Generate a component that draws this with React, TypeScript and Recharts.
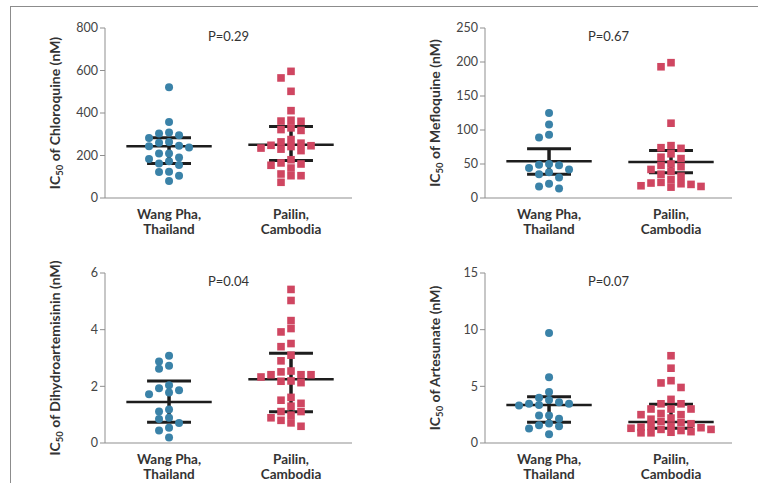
import React from 'react';
import { ScatterChart, Scatter, XAxis, YAxis, ReferenceLine, Label } from 'recharts';

// group labels, two lines each
const categories = [
  ['Wang Pha,', 'Thailand'],
  ['Pailin,', 'Cambodia'],
];

// IC50 values (nM)
const chloroquineWangPha = [521, 358, 308, 303, 295, 282, 264, 260, 246, 243, 238, 210, 209, 191, 184, 173, 162, 155, 124, 122, 105, 80];
const chloroquinePailin = [596, 565, 502, 411, 366, 362, 361, 330, 322, 318, 275, 264, 258, 248, 246, 242, 235, 230, 223, 180, 165, 160, 154, 141, 113, 105, 105, 74];

const mefloquineWangPha = [125, 108, 93, 89, 50, 49, 48, 44, 42, 38, 35, 30, 21, 17, 14];
const mefloquinePailin = [199, 193, 110, 77, 74, 73, 65, 60, 58, 50, 48, 46, 42, 39, 35, 32, 27, 23, 22, 21, 20, 18, 17, 16];

const dhaWangPha = [3.08, 2.88, 2.73, 2.62, 2.04, 1.93, 1.86, 1.78, 1.72, 1.18, 1.11, 0.89, 0.85, 0.71, 0.54, 0.44, 0.19];
const dhaPailin = [5.42, 5.03, 4.32, 4.04, 3.92, 3.51, 3.4, 3.1, 2.9, 2.54, 2.51, 2.41, 2.41, 2.41, 2.33, 2.19, 2.18, 2.13, 1.61, 1.51, 1.4, 1.3, 1.11, 1.11, 0.98, 0.89, 0.8, 0.71, 0.59];

const artesunateWangPha = [9.7, 5.8, 4.5, 4.0, 3.8, 3.6, 3.46, 3.46, 3.35, 3.31, 2.43, 2.43, 2.13, 1.72, 1.57, 1.48, 1.27, 0.77];
const artesunatePailin = [7.7, 6.6, 5.5, 5.3, 4.9, 3.85, 3.46, 3.46, 3.0, 3.0, 3.0, 2.6, 2.5, 2.5, 2.2, 2.1, 1.9, 1.8, 1.7, 1.5, 1.45, 1.4, 1.35, 1.3, 1.2, 1.2, 1.1, 1.0, 0.95, 0.9, 0.9];

// [q1, median, q3] per group
const chloroquineStats = [[162, 243, 284], [176, 251, 337]];
const mefloquineStats = [[35, 54, 72.5], [37, 53, 70]];
const dhaStats = [[0.73, 1.45, 2.19], [1.1, 2.25, 3.17]];
const artesunateStats = [[1.84, 3.35, 4.08], [1.3, 1.86, 3.43]];

const pValues = ['P=0.29', 'P=0.67', 'P=0.04', 'P=0.07'];

const BLUE = '#3a82a8';
const RED = '#cf4661';
const BAR = '#1d1d1d';
const AXIS = '#8f8f8f';
const FONT = 'Lato, "Open Sans", sans-serif';

const PLOT_H = 170;
const STEP = 0.082; // one swarm column in x units

// simple beeswarm: stack points sideways when they would overlap, max 4 columns each side
function swarm(values: number[], yMax: number, center: number) {
  const px = PLOT_H / yMax;
  const placed: { c: number; y: number }[] = [];
  const order = [0, -1, 1, -2, 2, -3, 3, -4, 4];
  const gap = 7;
  return [...values]
    .sort((a, b) => b - a)
    .map((v) => {
      const y = v * px;
      const near = (k: number) =>
        placed.filter((p) => p.c === k).reduce((m, p) => Math.min(m, Math.abs(p.y - y)), Infinity);
      let c = order.find((k) => near(k) >= gap);
      if (c === undefined) {
        c = order.reduce((best, k) => (near(k) > near(best) ? k : best), 0);
      }
      placed.push({ c, y });
      return { x: center + c * STEP, y: v };
    });
}

const Dot = (p: any) => <circle cx={p.cx} cy={p.cy} r={4} fill={BLUE} />;
const Sq = (p: any) => <rect x={p.cx - 3.8} y={p.cy - 3.8} width={7.6} height={7.6} fill={RED} />;

const CatTick = (p: any) => {
  const lines = categories[p.payload.value - 1] || [];
  return (
    <text x={p.x} y={p.y} textAnchor="middle" fill="#333" fontSize={13.5} fontWeight={700} fontFamily={FONT}>
      <tspan x={p.x} dy={19}>{lines[0]}</tspan>
      <tspan x={p.x} dy={15}>{lines[1]}</tspan>
    </text>
  );
};

const drugs = [
  { name: 'Chloroquine', wang: chloroquineWangPha, pailin: chloroquinePailin, stats: chloroquineStats, max: 800, ticks: [0, 200, 400, 600, 800] },
  { name: 'Mefloquine', wang: mefloquineWangPha, pailin: mefloquinePailin, stats: mefloquineStats, max: 250, ticks: [0, 50, 100, 150, 200, 250] },
  { name: 'Dihydroartemisinin', wang: dhaWangPha, pailin: dhaPailin, stats: dhaStats, max: 6, ticks: [0, 2, 4, 6] },
  { name: 'Artesunate', wang: artesunateWangPha, pailin: artesunatePailin, stats: artesunateStats, max: 15, ticks: [0, 5, 10, 15] },
];

function Panel({ drug, p }: { drug: (typeof drugs)[number]; p: string }) {
  const yLabel = (props: any) => {
    const vb = props.viewBox;
    const cx = vb.x + vb.width - 45;
    const cy = vb.y + vb.height / 2;
    return (
      <text x={cx} y={cy} transform={`rotate(-90, ${cx}, ${cy})`} textAnchor="middle" fill="#333" fontSize={14} fontWeight={700} fontFamily={FONT}>
        IC<tspan dy={3} fontSize={9.5}>50</tspan>
        <tspan dy={-3}> of {drug.name} (nM)</tspan>
      </text>
    );
  };
  return (
    <div style={{ position: 'relative', width: 379, height: 238 }}>
      <ScatterChart width={379} height={238} margin={{ top: 28, right: 27, bottom: 0, left: 45 }}>
        <XAxis
          type="number"
          dataKey="x"
          domain={[0.475, 2.5]}
          ticks={[1, 2]}
          tickLine={false}
          tickSize={0}
          tick={<CatTick />}
          height={40}
          stroke={AXIS}
          interval={0}
          allowDataOverflow
        />
        <YAxis
          type="number"
          dataKey="y"
          domain={[0, drug.max]}
          ticks={drug.ticks}
          width={60}
          tickSize={5}
          tickMargin={2}
          stroke={AXIS}
          tick={{ fill: '#444', fontSize: 12.5, fontFamily: FONT }}
          interval={0}
        >
          <Label content={yLabel} />
        </YAxis>
        <Scatter data={swarm(drug.wang, drug.max, 1)} shape={<Dot />} isAnimationActive={false} />
        <Scatter data={swarm(drug.pailin, drug.max, 2)} shape={<Sq />} isAnimationActive={false} />
        {drug.stats.map(([q1, med, q3], i) => {
          const c = i + 1;
          return (
            <React.Fragment key={i}>
              <ReferenceLine segment={[{ x: c - 0.35, y: med }, { x: c + 0.35, y: med }]} stroke={BAR} strokeWidth={2.5} />
              <ReferenceLine segment={[{ x: c - 0.18, y: q3 }, { x: c + 0.18, y: q3 }]} stroke={BAR} strokeWidth={3} />
              <ReferenceLine segment={[{ x: c - 0.18, y: q1 }, { x: c + 0.18, y: q1 }]} stroke={BAR} strokeWidth={3} />
              <ReferenceLine segment={[{ x: c, y: q1 }, { x: c, y: q3 }]} stroke={BAR} strokeWidth={3.5} />
            </React.Fragment>
          );
        })}
      </ScatterChart>
      <div
        style={{
          position: 'absolute',
          left: 178.5,
          width: 100,
          top: 28,
          textAlign: 'center',
          fontFamily: FONT,
          fontSize: 13,
          lineHeight: '16px',
          color: '#333',
        }}
      >
        {p}
      </div>
    </div>
  );
}

export default function App() {
  const pos = [
    { left: 0, top: 0 },
    { left: 380, top: 0 },
    { left: 0, top: 244.5 },
    { left: 380, top: 244.5 },
  ];
  return (
    <div style={{ position: 'absolute', left: 0, top: 0, width: 758, height: 483, background: '#fff', overflow: 'hidden' }}>
      <div
        style={{
          position: 'absolute',
          left: 10,
          top: 6,
          right: 0,
          bottom: 0,
          borderTop: '1.5px solid #8c8c8c',
          borderLeft: '1.5px solid #8c8c8c',
        }}
      />
      {drugs.map((d, i) => (
        <div key={d.name} style={{ position: 'absolute', ...pos[i] }}>
          <Panel drug={d} p={pValues[i]} />
        </div>
      ))}
    </div>
  );
}
